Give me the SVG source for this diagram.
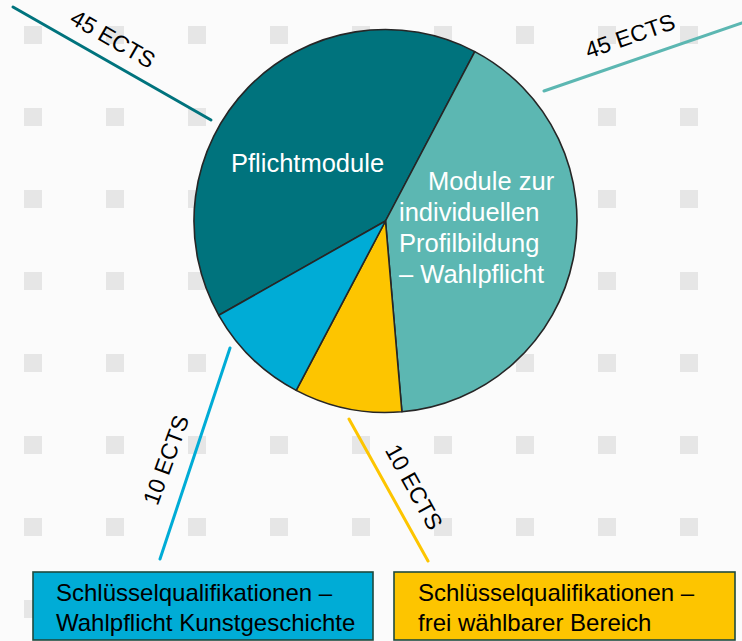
<svg xmlns="http://www.w3.org/2000/svg" width="742" height="641" viewBox="0 0 742 641">
<defs>
<style>
.dot{fill:#e6e6e6}
.slice{stroke:#262626;stroke-width:1.6;stroke-linejoin:round}
.lead{fill:none;stroke-width:3;stroke-linecap:round}
.pt{font-family:"Liberation Sans",Arial,sans-serif;font-size:25.5px;fill:#ffffff}
.lbl{font-family:"Liberation Sans",Arial,sans-serif;font-size:23px;fill:#000000;text-anchor:middle}
.bt{font-family:"Liberation Sans",Arial,sans-serif;font-size:24px;fill:#000000}
.box{stroke:#1e4a3e;stroke-width:1.6}
</style>
<pattern id="grid" x="24" y="26" width="82" height="82" patternUnits="userSpaceOnUse">
<rect class="dot" x="0" y="0" width="18" height="18"/>
</pattern>
</defs>
<rect x="0" y="0" width="742" height="641" fill="#fbfbfb"/>
<rect x="0" y="0" width="742" height="641" fill="url(#grid)"/>

<g id="pie">
<g id="pflichtmodule">
<path class="slice" fill="#00737d" d="M385.5,221 L218.8,315.3 A191.5,191.5 0 0 1 474.8,51.6 Z"/>
<text class="pt" x="231" y="172">Pflichtmodule</text>
</g>
<g id="wahlpflicht">
<path class="slice" fill="#5cb7b2" d="M385.5,221 L474.8,51.6 A191.5,191.5 0 0 1 401.9,411.8 Z"/>
<text class="pt"><tspan x="428" y="190">Module zur</tspan><tspan x="399" y="221">individuellen</tspan><tspan x="399" y="252">Profilbildung</tspan><tspan x="399" y="283">– Wahlpflicht</tspan></text>
</g>
<g id="frei">
<path class="slice" fill="#fdc500" d="M385.5,221 L401.9,411.8 A191.5,191.5 0 0 1 296.2,390.4 Z"/>
</g>
<g id="kunst">
<path class="slice" fill="#00acd6" d="M385.5,221 L296.2,390.4 A191.5,191.5 0 0 1 218.8,315.3 Z"/>
</g>
</g>

<g id="connectors">
<line class="lead" stroke="#00737d" x1="13" y1="7" x2="211" y2="120"/>
<line class="lead" stroke="#5cb7b2" x1="544" y1="91" x2="742" y2="23"/>
<line class="lead" stroke="#00acd6" x1="230" y1="348" x2="160" y2="559"/>
<line class="lead" stroke="#fdc500" x1="349" y1="419" x2="428" y2="561"/>
<text class="lbl" transform="translate(113,39) rotate(30)" x="0" y="8">45 ECTS</text>
<text class="lbl" transform="translate(630,36) rotate(-19)" x="0" y="8">45 ECTS</text>
<text class="lbl" transform="translate(166,460) rotate(-70)" x="0" y="8">10 ECTS</text>
<text class="lbl" transform="translate(414,487) rotate(61)" x="0" y="8">10 ECTS</text>
</g>

<g id="box-kunst">
<rect class="box" x="33" y="572" width="340" height="68" fill="#00acd6"/>
<text class="bt"><tspan x="56" y="601">Schlüsselqualifikationen –</tspan><tspan x="56" y="631">Wahlpflicht Kunstgeschichte</tspan></text>
</g>
<g id="box-frei">
<rect class="box" x="394" y="572" width="341" height="68" fill="#fdc500"/>
<text class="bt"><tspan x="418" y="601">Schlüsselqualifikationen –</tspan><tspan x="418" y="631">frei wählbarer Bereich</tspan></text>
</g>
</svg>
